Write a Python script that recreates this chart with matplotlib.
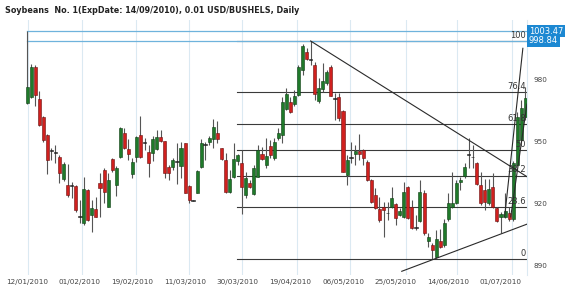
import numpy as np
import matplotlib.pyplot as plt

TITLE = "Soybeans  No. 1(ExpDate: 14/09/2010), 0.01 USD/BUSHELS, Daily"

date_labels = ["12/01/2010", "01/02/2010", "19/02/2010", "11/03/2010", "30/03/2010",
               "19/04/2010", "06/05/2010", "25/05/2010", "14/06/2010", "01/07/2010"]
label_idx = [0, 13, 26, 39, 52, 65, 78, 91, 104, 117]
grid_idx = [0.2, 13.5, 26.9, 40, 53.1, 66.7, 79.7, 93.5, 106.1, 119.6]

# daily OHLC
opens = [969.0, 971.9, 986.4, 970.8, 962.1, 953.4, 945.8, 944.8, 942.9, 932.1,
         929.2, 928.9, 928.9, 913.9, 910.9, 926.8, 914.7, 917.6, 930.2, 936.5,
         918.7, 941.8, 929.2, 942.7, 954.3, 946.6, 934.5, 942.7, 953.4, 949.5,
         945.3, 944.8, 946.6, 952.4, 950.5, 938.0, 937.7, 940.6, 938.4, 949.4,
         928.7, 921.7, 925.5, 937.8, 948.6, 950.0, 951.3, 954.2, 946.9, 941.3,
         925.7, 932.9, 940.9, 940.0, 924.4, 930.3, 924.8, 933.2, 944.2, 938.9,
         948.1, 942.1, 951.8, 953.4, 966.0, 969.5, 968.2, 972.7, 984.8, 993.7,
         989.8, 987.2, 969.8, 975.6, 978.4, 986.4, 970.9, 971.9, 965.0, 934.0,
         942.5, 944.0, 945.8, 946.1, 940.5, 931.6, 924.4, 917.4, 918.4, 915.5,
         918.7, 919.9, 914.7, 913.9, 928.4, 918.4, 908.6, 911.5, 925.5, 902.1,
         899.9, 894.5, 902.3, 899.9, 912.6, 918.7, 920.3, 930.8, 933.4, 943.8,
         942.6, 940.0, 929.2, 926.8, 920.3, 928.2, 917.9, 913.9, 913.9, 915.5,
         912.6, 938.9, 951.0, 962.1]
highs = [1003.47, 987.7, 987.2, 974.7, 962.6, 953.9, 947.1, 948.5, 943.7, 940.3,
         939.4, 930.8, 929.2, 922.0, 933.2, 927.3, 922.0, 923.5, 935.0, 937.4,
         935.0, 942.3, 938.4, 957.3, 956.8, 951.5, 942.2, 952.9, 962.6, 951.9,
         948.5, 952.9, 955.8, 955.8, 950.5, 938.9, 942.2, 949.5, 950.1, 949.5,
         929.2, 922.0, 936.5, 951.5, 950.1, 952.9, 961.0, 960.3, 947.1, 944.5,
         936.5, 949.7, 944.2, 946.1, 935.6, 931.6, 938.9, 948.5, 947.4, 951.8,
         951.0, 952.0, 956.8, 971.9, 976.0, 971.9, 975.2, 987.2, 997.4, 995.3,
         998.84, 988.7, 980.8, 988.1, 984.8, 987.2, 973.6, 973.6, 965.5, 943.7,
         949.8, 948.5, 953.9, 946.6, 941.3, 932.1, 927.6, 923.4, 921.0, 921.1,
         928.4, 920.5, 918.1, 930.6, 928.7, 922.0, 914.7, 931.6, 926.8, 905.9,
         901.0, 907.4, 907.7, 912.6, 925.5, 935.6, 931.6, 933.2, 940.0, 951.8,
         948.5, 940.5, 935.5, 932.1, 931.9, 934.8, 918.4, 916.3, 925.2, 918.7,
         940.8, 964.5, 970.3, 976.6]
lows = [968.4, 971.3, 967.4, 957.7, 950.0, 934.5, 941.3, 939.8, 930.2, 931.1,
        923.4, 922.7, 916.1, 910.8, 909.8, 911.8, 906.6, 913.7, 913.9, 920.5,
        918.5, 935.5, 923.9, 942.2, 946.6, 941.3, 932.6, 940.3, 942.2, 946.1,
        933.2, 940.8, 946.1, 950.0, 932.6, 931.6, 936.5, 929.7, 932.6, 925.3,
        920.5, 921.3, 925.3, 937.4, 941.3, 948.5, 946.9, 949.7, 941.3, 925.3,
        925.3, 932.6, 938.9, 915.1, 922.9, 927.7, 924.4, 933.1, 941.3, 937.4,
        942.2, 941.3, 951.0, 949.4, 965.5, 964.0, 967.4, 972.2, 982.4, 989.7,
        987.2, 970.3, 968.9, 974.2, 977.6, 972.2, 960.6, 960.3, 935.5, 929.2,
        939.8, 938.9, 941.3, 938.9, 931.1, 920.5, 917.6, 911.3, 904.2, 912.3,
        918.1, 909.8, 914.2, 913.2, 912.7, 907.9, 907.4, 911.3, 905.0, 899.3,
        893.4, 893.7, 898.7, 899.2, 911.8, 918.1, 919.9, 926.8, 932.6, 937.4,
        937.4, 929.2, 919.5, 917.1, 919.5, 918.1, 911.3, 905.8, 913.2, 911.8,
        911.8, 938.4, 950.0, 960.6]
closes = [976.8, 986.4, 972.7, 958.2, 951.0, 941.3, 945.6, 944.7, 934.8, 939.4,
          924.4, 928.8, 917.1, 913.8, 927.3, 912.2, 918.1, 913.9, 927.7, 925.8,
          931.6, 936.5, 937.6, 956.8, 947.1, 944.2, 940.3, 952.4, 942.7, 949.4,
          940.0, 951.5, 952.4, 950.6, 934.8, 934.8, 941.3, 940.5, 947.1, 925.5,
          921.9, 921.6, 936.0, 949.7, 948.5, 952.1, 957.4, 951.3, 941.6, 925.7,
          932.1, 941.6, 943.6, 928.4, 932.4, 928.1, 937.3, 946.1, 941.6, 943.2,
          943.7, 950.1, 954.2, 969.5, 973.1, 964.4, 972.3, 986.1, 996.6, 990.2,
          989.7, 973.1, 976.0, 979.6, 984.0, 972.4, 970.8, 961.5, 935.6, 941.3,
          942.4, 945.8, 944.2, 942.1, 931.6, 921.1, 917.9, 912.3, 917.1, 915.4,
          922.8, 913.4, 916.8, 926.0, 913.1, 908.2, 908.5, 925.8, 905.8, 904.2,
          897.7, 903.1, 899.3, 910.8, 920.3, 920.3, 930.2, 931.6, 937.7, 943.7,
          942.5, 929.7, 920.3, 920.7, 927.0, 918.7, 911.9, 915.3, 916.5, 912.5,
          939.7, 962.1, 966.4, 971.3]

# drawn objects
price_lines = [1003.47, 998.84]
fib_low, fib_high = 893.4, 998.84
fib_levels = [0, 23.6, 38.2, 50, 61.8, 76.4, 100]
fib_start = 51.8
trend_lines = [([70, 123.4], [998.84, 933.2]),
               ([92.5, 123.4], [887.4, 910.2]),
               ([117.9, 122.4], [913.7, 995.3]),
               ([119.4, 123.4], [913.7, 968.3])]

GREEN = "#1f7a2a"
RED = "#d0201e"

fig = plt.figure(figsize=(5.7, 2.89), dpi=100)
ax = fig.add_axes([0.0404, 0.0484, 0.884, 0.8824])
x0, x1 = -1, 123.4
ax.set_xlim(x0, x1)
ax.set_ylim(885.6, 1009.0)

o = np.array(opens)
h = np.array(highs)
l = np.array(lows)
c = np.array(closes)
idx = np.arange(len(o))

# grid
ax.set_xticks(grid_idx, minor=True)
ax.grid(which="minor", axis="x", color="#dbe9f2", linewidth=0.8)
ax.tick_params(which="minor", length=0)

# fibonacci
for lv in fib_levels:
    y = fib_low + (fib_high - fib_low) * lv / 100
    ax.plot([fib_start, x1], [y, y], color="#3a3a3a", linewidth=0.8, zorder=2)
    ax.text(x1 - 0.3, y + 0.6, "%g" % lv, ha="right", va="bottom",
            fontsize=6, color="#333333", zorder=5)

# price lines
for p in price_lines:
    ax.plot([0, x1], [p, p], color="#6fb3dc", linewidth=0.9, zorder=3)

# candles
for i in idx:
    doji = abs(c[i] - o[i]) < 0.35
    col = "#222222" if doji else (GREEN if c[i] > o[i] else RED)
    edge = "#222222" if doji else ("#0f3d14" if c[i] > o[i] else "#6a1010")
    ax.vlines(i, l[i], h[i], color="#555555", linewidth=0.8, zorder=3)
    bot = min(o[i], c[i])
    hgt = max(abs(c[i] - o[i]), 0.35)
    ax.bar(i, hgt, bottom=bot, width=0.75 if not doji else 0.9, color=col,
           edgecolor=edge, linewidth=0.4, zorder=4)

for xs, ys in trend_lines:
    ax.plot(xs, ys, color="#2a2a2a", linewidth=0.8, zorder=5)

# axes styling
for s in ["top", "left", "bottom"]:
    ax.spines[s].set_visible(False)
ax.spines["right"].set_color("#dbe9f2")
ax.spines["right"].set_linewidth(0.8)

ax.set_xticks(label_idx)
ax.set_xticklabels(date_labels, fontsize=5.2, color="#444444")
ax.tick_params(axis="x", which="major", length=0, pad=3)

ax.yaxis.tick_right()
ax.set_yticks([890, 920, 950, 980])
ax.tick_params(axis="y", length=0, pad=5, labelsize=5.2, labelcolor="#444444")

for p in price_lines:
    ax.text(1.004, p, "%.2f" % p, transform=ax.get_yaxis_transform(), ha="left",
            va="center", fontsize=6, color="white",
            bbox=dict(boxstyle="square,pad=0.18", facecolor="#1c88d2", edgecolor="none"))

fig.text(0.009, 0.965, TITLE, fontsize=5.8, fontweight="bold", color="#222222",
         ha="left", va="center")

fig.savefig("out.png", dpi=100, facecolor="white")
